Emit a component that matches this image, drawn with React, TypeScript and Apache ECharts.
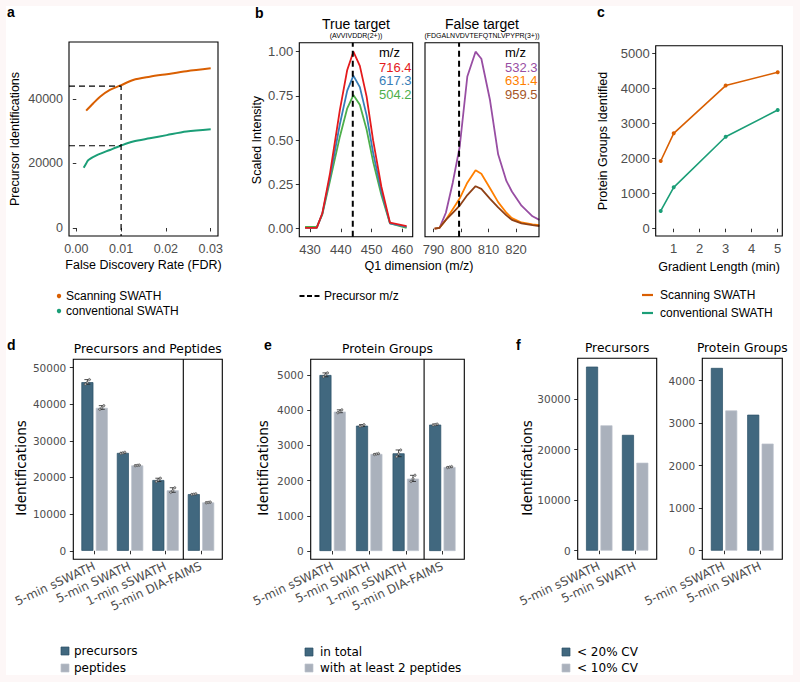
import React, { useEffect, useRef } from 'react';
import * as echarts from 'echarts';

// ---------- Panel a: precursor identifications vs FDR ----------
const fdrScan = [0.0022, 0.0038, 0.0053, 0.0075, 0.0099, 0.0127, 0.0164, 0.0202, 0.0246, 0.03];
const idScan = [36400, 38700, 40700, 42800, 44200, 45900, 46900, 47700, 48600, 49500];
const fdrConv = [0.00165, 0.0022, 0.0027, 0.0046, 0.0075, 0.0099, 0.0127, 0.0164, 0.0202, 0.0246, 0.03];
const idConv = [18700, 20000, 21100, 22600, 24200, 25500, 26800, 27800, 28800, 29900, 30600];
const fdrCutoff = 0.01;
const scanAtCutoff = 44000;
const convAtCutoff = 25500;
const fdrTicks = [0, 0.01, 0.02, 0.03];
const idTicks = [0, 20000, 40000];

// ---------- Panel b: Q1 profiles ----------
const trueMz = [428.4, 432.2, 434.0, 436.5, 439.7, 442.1, 444.1, 446.2, 448.4, 450.5, 453.2, 456.0, 461.4];
const true716 = [0.005, 0.005, 0.087, 0.313, 0.67, 0.897, 1.0, 0.92, 0.746, 0.5, 0.237, 0.034, 0.015];
const true617 = [0.005, 0.005, 0.085, 0.29, 0.59, 0.78, 0.865, 0.8, 0.64, 0.43, 0.21, 0.03, 0.01];
const true504 = [0.01, 0.01, 0.08, 0.27, 0.52, 0.68, 0.755, 0.7, 0.56, 0.38, 0.19, 0.03, 0.005];
const truePrecursorMz = 443.9;
const falseMz = [790.4, 792.2, 794.5, 797.0, 799.5, 802.3, 805.3, 807.4, 810.5, 813.5, 816.5, 818.5, 822.0, 826.0, 828.5];
const false532 = [0.0, 0.005, 0.09, 0.26, 0.46, 0.86, 1.0, 0.96, 0.73, 0.42, 0.27, 0.21, 0.13, 0.07, 0.05];
const false631 = [0.0, 0.005, 0.05, 0.11, 0.17, 0.26, 0.33, 0.31, 0.23, 0.15, 0.09, 0.06, 0.035, 0.025, 0.02];
const false959 = [0.0, 0.005, 0.05, 0.09, 0.13, 0.19, 0.24, 0.225, 0.17, 0.12, 0.075, 0.05, 0.03, 0.02, 0.015];
const falsePrecursorMz = 799.3;
const intensityTicks = [0, 0.25, 0.5, 0.75, 1];
const trueMzTicks = [430, 440, 450, 460];
const falseMzTicks = [790, 800, 810, 820];

// ---------- Panel c: protein groups vs gradient ----------
const gradientMin = [0.5, 1, 3, 5];
const scanPG = [1930, 2720, 4080, 4460];
const convPG = [505, 1180, 2620, 3385];
const gradientTicks = [1, 2, 3, 4, 5];
const pgTicks = [0, 1000, 2000, 3000, 4000, 5000];

// ---------- Panel d / e ----------
const methods = ['5-min sSWATH', '5-min SWATH', '1-min sSWATH', '5-min DIA-FAIMS'];
const precursors = [46000, 26700, 19300, 15450];
const peptides = [39000, 23300, 16500, 13200];
const precursorsRep = [[45450, 45900, 46700], [26550, 26700, 26850], [18900, 19300, 19800], [15350, 15450, 15550]];
const peptidesRep = [[38600, 39000, 39600], [23200, 23300, 23400], [15950, 16400, 17200], [13100, 13200, 13300]];
const pgTotal = [5000, 3560, 2775, 3590];
const pgTwoPep = [3960, 2755, 2055, 2385];
const pgTotalRep = [[4950, 5000, 5060], [3540, 3560, 3590], [2680, 2760, 2870], [3575, 3590, 3605]];
const pgTwoPepRep = [[3930, 3960, 4010], [2740, 2755, 2770], [1975, 2050, 2150], [2370, 2385, 2400]];
const dTicks = [0, 10000, 20000, 30000, 40000, 50000];
const eTicks = [0, 1000, 2000, 3000, 4000, 5000];

// ---------- Panel f ----------
const cvMethods = ['5-min sSWATH', '5-min SWATH'];
const precCV20 = [36400, 22900];
const precCV10 = [24800, 17400];
const protCV20 = [4300, 3200];
const protCV10 = [3300, 2520];
const f1Ticks = [0, 10000, 20000, 30000];
const f2Ticks = [0, 1000, 2000, 3000, 4000];

// ---------- styles ----------
const F1 = "'Liberation Sans', Arial, sans-serif";
const F2 = "'DejaVu Sans', sans-serif";
const ORANGE = '#d95f02';
const GREEN = '#1b9e77';
const DARK = '#41687f';
const DARK_EDGE = '#2a4f66';
const LIGHT = '#aab1bc';
const LIGHT_EDGE = '#bcc2cb';
const TICK = '#333333';
const LABEL = '#4d4d4d';

function valAxis(grid: number, min: number, max: number, ticks: number[], opts: any = {}) {
  return {
    type: 'value', gridIndex: grid, min, max, offset: opts.offset || 0,
    show: opts.show !== false,
    axisLine: { show: false },
    axisTick: { show: true, length: 3.5, customValues: ticks, lineStyle: { color: TICK, width: 1 } },
    axisLabel: {
      customValues: ticks,
      color: LABEL, fontFamily: opts.font || F1, fontSize: opts.size || 12.5,
      margin: opts.margin ?? 6, formatter: opts.fmt || ((v: number) => String(v)),
    },
    splitLine: { show: false },
  };
}

function catAxis(grid: number, data: string[]) {
  return {
    type: 'category', gridIndex: grid, data,
    axisLine: { show: false },
    axisTick: { show: true, alignWithLabel: true, length: 3.5, lineStyle: { color: TICK, width: 1 } },
    axisLabel: { rotate: 25, interval: 0, color: LABEL, fontFamily: F2, fontSize: 12, margin: 6 },
    splitLine: { show: false },
  };
}

function errSeries(idx: number, reps: number[][], offset: number) {
  return {
    type: 'custom', xAxisIndex: idx, yAxisIndex: idx, z: 5, clip: false,
    data: reps.map((r, i) => [i, Math.min(...r), Math.max(...r), r[0], r[1], r[2]]),
    encode: { x: 0, y: [1, 2] },
    renderItem: (_p: any, api: any) => {
      const i = api.value(0);
      const lo = api.coord([i, api.value(1)]);
      const hi = api.coord([i, api.value(2)]);
      const x = lo[0] + offset;
      const st = { stroke: '#222', lineWidth: 0.8 };
      const children: any[] = [
        { type: 'line', shape: { x1: x, y1: lo[1], x2: x, y2: hi[1] }, style: st },
        { type: 'line', shape: { x1: x - 3, y1: lo[1], x2: x + 3, y2: lo[1] }, style: st },
        { type: 'line', shape: { x1: x - 3, y1: hi[1], x2: x + 3, y2: hi[1] }, style: st },
      ];
      [3, 4, 5].forEach((k, j) => {
        const p = api.coord([i, api.value(k)]);
        children.push({ type: 'circle', shape: { cx: x + (j - 1) * 2, cy: p[1], r: 1.2 }, style: { fill: '#b0b0b0', stroke: '#333', lineWidth: 0.5 } });
      });
      return { type: 'group', children };
    },
  };
}

function barSeries(idx: number, data: number[], dark: boolean) {
  return {
    type: 'bar', xAxisIndex: idx, yAxisIndex: idx, data, barWidth: 12, barGap: '20%',
    itemStyle: { color: dark ? DARK : LIGHT, borderColor: dark ? DARK_EDGE : LIGHT_EDGE, borderWidth: 0.7 },
  };
}

function txt(text: string, x: number, y: number, o: any = {}) {
  return {
    type: 'text', x, y, rotation: o.rot || 0, z: 20,
    style: {
      text, fill: o.color || '#000', fontFamily: o.font || F1, fontSize: o.size || 12.5,
      fontWeight: o.bold ? 'bold' : 'normal', align: o.align || 'center', verticalAlign: 'middle',
    },
  };
}
function box(x: number, y: number, w: number, h: number) {
  return { type: 'rect', z: 15, shape: { x, y, width: w, height: h }, style: { fill: 'none', stroke: '#000', lineWidth: 1.1 } };
}
function seg(x1: number, y1: number, x2: number, y2: number, stroke: string, lineWidth = 1.1, lineDash?: number[]) {
  return { type: 'line', z: 15, shape: { x1, y1, x2, y2 }, style: { stroke, lineWidth, lineDash } };
}
function sq(x: number, y: number, fill: string, stroke: string) {
  return { type: 'rect', z: 15, shape: { x, y, width: 8, height: 8 }, style: { fill, stroke, lineWidth: 0.7 } };
}

function buildOption() {
  const pairs = (xs: number[], ys: number[]) => xs.map((x, i) => [x, ys[i]]);
  // axis ranges (panel extents incl. ggplot-style padding)
  const aX: [number, number] = [-0.00163, 0.03163];
  const aY: [number, number] = [-2481, 57674];
  const bY: [number, number] = [-0.0452, 1.0508];
  const bLX: [number, number] = [426.52, 463.38];
  const bRX: [number, number] = [786.91, 828.36];
  const cX: [number, number] = [0.3077, 5.177];
  const cY: [number, number] = [-208, 5217];
  const dY: [number, number] = [-2319, 52237];
  const eY: [number, number] = [-236, 5446];
  const f1Y: [number, number] = [-1701, 38049];
  const f2Y: [number, number] = [-202, 4527];
  const dashPrec = { type: [6, 4] as any, color: '#000', width: 2 };

  const grid = [
    { left: 69, top: 42, width: 149, height: 194 },
    { left: 299.3, top: 42.7, width: 113.4, height: 194 },
    { left: 425, top: 42.7, width: 114, height: 194 },
    { left: 655.7, top: 45.7, width: 126.6, height: 190.3 },
    { left: 76.85, top: 359.3, width: 141.9, height: 200 },
    { left: 314.36, top: 359.3, width: 146.3, height: 200 },
    { left: 581.3, top: 358.3, width: 71.8, height: 201 },
    { left: 705.9, top: 358.3, width: 72.7, height: 201 },
  ];

  const xAxis = [
    valAxis(0, aX[0], aX[1], fdrTicks, { fmt: (v: number) => v.toFixed(2) }),
    valAxis(1, bLX[0], bLX[1], trueMzTicks, { size: 13 }),
    valAxis(2, bRX[0], bRX[1], falseMzTicks, { size: 13 }),
    valAxis(3, cX[0], cX[1], gradientTicks, { size: 13 }),
    catAxis(4, methods),
    catAxis(5, methods),
    catAxis(6, cvMethods),
    catAxis(7, cvMethods),
  ];
  const yAxis = [
    valAxis(0, aY[0], aY[1], idTicks),
    valAxis(1, bY[0], bY[1], intensityTicks, { size: 13, fmt: (v: number) => v.toFixed(2) }),
    valAxis(2, bY[0], bY[1], intensityTicks, { show: false }),
    valAxis(3, cY[0], cY[1], pgTicks, { size: 13 }),
    valAxis(4, dY[0], dY[1], dTicks, { font: F2, size: 10.5, margin: 7, offset: 3.55 }),
    valAxis(5, eY[0], eY[1], eTicks, { font: F2, size: 10.5, margin: 7, offset: 3.66 }),
    valAxis(6, f1Y[0], f1Y[1], f1Ticks, { font: F2, size: 10.5, margin: 7, offset: 3.6 }),
    valAxis(7, f2Y[0], f2Y[1], f2Ticks, { font: F2, size: 10.5, margin: 7, offset: 3.6 }),
  ];

  const line = (idx: number, data: number[][], color: string, width: number, extra: any = {}) => ({
    type: 'line', xAxisIndex: idx, yAxisIndex: idx, data, symbol: 'none',
    lineStyle: { color, width }, z: 3, ...extra,
  });

  const series: any[] = [
    // a
    line(0, pairs(fdrScan, idScan), ORANGE, 2, { smooth: 0.3 }),
    line(0, pairs(fdrConv, idConv), GREEN, 2, { smooth: 0.3 }),
    line(0, [[aX[0], scanAtCutoff], [fdrCutoff, scanAtCutoff], [fdrCutoff, aY[0]]], '#000', 1.2, { lineStyle: { type: [6, 4], color: '#000', width: 1.2 }, z: 4 }),
    line(0, [[aX[0], convAtCutoff], [fdrCutoff, convAtCutoff]], '#000', 1.2, { lineStyle: { type: [6, 4], color: '#000', width: 1.2 }, z: 4 }),
    // b left
    line(1, pairs(trueMz, true504), '#4daf4a', 1.8),
    line(1, pairs(trueMz, true617), '#377eb8', 1.8),
    line(1, pairs(trueMz, true716), '#e41a1c', 1.8),
    line(1, [[truePrecursorMz, bY[0]], [truePrecursorMz, bY[1]]], '#000', 2, { lineStyle: dashPrec, z: 4 }),
    // b right
    line(2, pairs(falseMz, false532), '#984ea3', 1.8),
    line(2, pairs(falseMz, false631), '#ff7f00', 1.8),
    line(2, pairs(falseMz, false959), '#8f4116', 1.8),
    line(2, [[falsePrecursorMz, bY[0]], [falsePrecursorMz, bY[1]]], '#000', 2, { lineStyle: dashPrec, z: 4 }),
    // c
    line(3, pairs(gradientMin, scanPG), ORANGE, 1.6, { symbol: 'circle', symbolSize: 4, itemStyle: { color: ORANGE } }),
    line(3, pairs(gradientMin, convPG), GREEN, 1.6, { symbol: 'circle', symbolSize: 4, itemStyle: { color: GREEN } }),
    // d
    barSeries(4, precursors, true),
    barSeries(4, peptides, false),
    errSeries(4, precursorsRep, -7.2),
    errSeries(4, peptidesRep, 7.2),
    // e
    barSeries(5, pgTotal, true),
    barSeries(5, pgTwoPep, false),
    errSeries(5, pgTotalRep, -7.2),
    errSeries(5, pgTwoPepRep, 7.2),
    // f
    barSeries(6, precCV20, true),
    barSeries(6, precCV10, false),
    barSeries(7, protCV20, true),
    barSeries(7, protCV10, false),
  ];

  const graphic: any[] = [
    // panel letters
    txt('a', 7, 12, { bold: true, size: 14, align: 'left' }),
    txt('b', 255, 13, { bold: true, size: 14, align: 'left' }),
    txt('c', 597, 12, { bold: true, size: 14, align: 'left' }),
    txt('d', 7, 345, { bold: true, size: 14, align: 'left' }),
    txt('e', 264, 345, { bold: true, size: 14, align: 'left' }),
    txt('f', 516, 345, { bold: true, size: 14, align: 'left' }),
    // a
    box(69, 42, 149, 194),
    txt('Precursor Identifications', 15, 139, { rot: Math.PI / 2 }),
    txt('False Discovery Rate (FDR)', 143.5, 265),
    { type: 'circle', z: 15, shape: { cx: 59, cy: 296, r: 2.2 }, style: { fill: ORANGE } },
    txt('Scanning SWATH', 66, 296, { align: 'left', size: 12 }),
    { type: 'circle', z: 15, shape: { cx: 59, cy: 311, r: 2.2 }, style: { fill: GREEN } },
    txt('conventional SWATH', 66, 311, { align: 'left', size: 12 }),
    // b
    box(299.3, 42.7, 113.4, 194),
    box(425, 42.7, 114, 194),
    txt('True target', 356, 23.5, { size: 14 }),
    txt('(AVVIVDDR(2+))', 356, 35, { size: 7 }),
    txt('False target', 482, 23.5, { size: 14 }),
    txt('(FDGALNVDVTEFQTNLVPYPR(3+))', 482, 35, { size: 7 }),
    txt('Scaled Intensity', 256.7, 140, { rot: Math.PI / 2 }),
    txt('Q1 dimension (m/z)', 419, 266),
    txt('m/z', 379, 52, { align: 'left', size: 13 }),
    txt('716.4', 379, 67, { align: 'left', size: 13, color: '#e41a1c' }),
    txt('617.3', 379, 80.5, { align: 'left', size: 13, color: '#377eb8' }),
    txt('504.2', 379, 94, { align: 'left', size: 13, color: '#4daf4a' }),
    txt('m/z', 505, 52, { align: 'left', size: 13 }),
    txt('532.3', 505, 67, { align: 'left', size: 13, color: '#984ea3' }),
    txt('631.4', 505, 80.5, { align: 'left', size: 13, color: '#ff7f00' }),
    txt('959.5', 505, 94, { align: 'left', size: 13, color: '#a65628' }),
    seg(299.5, 296, 320, 296, '#000', 2, [5, 2.5]),
    txt('Precursor m/z', 324, 296, { align: 'left', size: 12 }),
    // c
    box(655.7, 45.7, 126.6, 190.3),
    txt('Protein Groups Identified', 603, 141, { rot: Math.PI / 2 }),
    txt('Gradient Length (min)', 719, 267),
    seg(642, 295, 653, 295, ORANGE, 2.2),
    txt('Scanning SWATH', 660, 295, { align: 'left', size: 12 }),
    seg(642, 313, 653, 313, GREEN, 2.2),
    txt('conventional SWATH', 660, 313, { align: 'left', size: 12 }),
    // d
    box(73.3, 359.3, 149, 200),
    seg(183.3, 359.3, 183.3, 559.3, '#000', 1.1),
    txt('Precursors and Peptides', 147.8, 349, { font: F2, size: 12.3 }),
    txt('Identifications', 21, 468, { font: F2, size: 13.5, rot: Math.PI / 2 }),
    sq(61, 647, DARK, DARK_EDGE),
    txt('precursors', 74, 651, { font: F2, size: 12, align: 'left' }),
    sq(61, 664, LIGHT, LIGHT_EDGE),
    txt('peptides', 74, 668, { font: F2, size: 12, align: 'left' }),
    // e
    box(310.7, 359.3, 153.6, 200),
    seg(424.1, 359.3, 424.1, 559.3, '#000', 1.1),
    txt('Protein Groups', 387.5, 349, { font: F2, size: 12.3 }),
    txt('Identifications', 263, 468, { font: F2, size: 13.5, rot: Math.PI / 2 }),
    sq(305, 648, DARK, DARK_EDGE),
    txt('in total', 320, 652, { font: F2, size: 12, align: 'left' }),
    sq(305, 664, LIGHT, LIGHT_EDGE),
    txt('with at least 2 peptides', 320, 668, { font: F2, size: 12, align: 'left' }),
    // f
    box(577.7, 358.3, 79, 201),
    box(702.3, 358.3, 80, 201),
    txt('Precursors', 617.2, 348, { font: F2, size: 12.3 }),
    txt('Protein Groups', 742.3, 348, { font: F2, size: 12.3 }),
    txt('Identifications', 527, 468, { font: F2, size: 13.5, rot: Math.PI / 2 }),
    sq(562, 648, DARK, DARK_EDGE),
    txt('< 20% CV', 577, 652, { font: F2, size: 12, align: 'left' }),
    sq(562, 664, LIGHT, LIGHT_EDGE),
    txt('< 10% CV', 577, 668, { font: F2, size: 12, align: 'left' }),
  ];

  return { animation: false, backgroundColor: 'transparent', grid, xAxis, yAxis, series, graphic };
}

export default function App() {
  const ref = useRef<HTMLDivElement>(null);
  useEffect(() => {
    const chart = echarts.init(ref.current as HTMLDivElement, null, { renderer: 'svg' });
    chart.setOption(buildOption() as any);
    return () => chart.dispose();
  }, []);
  return (
    <div style={{ position: 'fixed', left: 0, top: 0, width: 800, height: 682, background: '#fdf7f7' }}>
      <div style={{ position: 'absolute', left: 6, top: 6, width: 787, height: 669, background: '#ffffff' }} />
      <div ref={ref} style={{ position: 'absolute', left: 0, top: 0, width: 800, height: 682 }} />
    </div>
  );
}
